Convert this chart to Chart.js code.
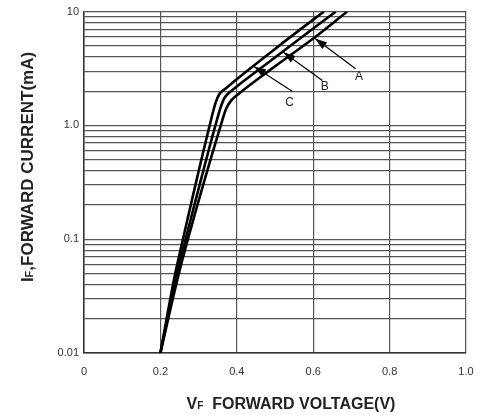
<!DOCTYPE html>
<html>
<head>
<meta charset="utf-8">
<script src="https://cdn.jsdelivr.net/npm/chart.js@4.4.1/dist/chart.umd.min.js"></script>
<style>
  html, body { margin: 0; padding: 0; background: #fff; }
  #wrap { width: 481px; height: 415px; }
</style>
</head>
<body>
<div id="wrap"><canvas id="ivChart"></canvas></div>
<script>
// forward voltage (V) vs forward current (mA)
const voltsA   = [0.2, 0.245, 0.272, 0.358, 0.372, 0.385, 0.403, 0.5, 0.6, 0.689];
const currentA = [0.01, 0.045, 0.1, 1.0, 1.4, 1.65, 1.87, 3.3, 5.8, 10];

const voltsB   = [0.2, 0.24, 0.266, 0.344, 0.358, 0.368, 0.385, 0.4, 0.5, 0.6, 0.659];
const currentB = [0.01, 0.045, 0.1, 1.0, 1.45, 1.75, 2.0, 2.2, 3.95, 7.1, 10];

const voltsC   = [0.2, 0.236, 0.259, 0.329, 0.345, 0.355, 0.37, 0.4, 0.5, 0.6, 0.628];
const currentC = [0.01, 0.045, 0.1, 1.0, 1.6, 1.9, 2.1, 2.55, 4.7, 8.5, 10];

// y grid: 1..9 in every decade, only the decades get a label
const yGrid = [0.01, 0.02, 0.03, 0.04, 0.05, 0.06, 0.07, 0.08, 0.09,
               0.1, 0.2, 0.3, 0.4, 0.5, 0.6, 0.7, 0.8, 0.9,
               1, 2, 3, 4, 5, 6, 7, 8, 9, 10];
const yLabels = { 0.01: '0.01', 0.1: '0.1', 1: '1.0', 10: '10' };
const xLabels = { 0: '0', 0.2: '0.2', 0.4: '0.4', 0.6: '0.6', 0.8: '0.8', 1: '1.0' };

// curve call-outs: label, arrow tip (on the curve), arrow tail, label spot
const calloutNames = ['A', 'B', 'C'];
const calloutTips  = [[0.605, 5.8], [0.522, 4.4], [0.445, 3.3]];
const calloutTails = [[0.711, 3.15], [0.624, 2.48], [0.545, 2.0]];
const calloutText  = [[0.72, 2.7], [0.63, 2.19], [0.538, 1.59]];

function toPoints(xs, ys) {
  return xs.map((x, i) => ({ x: x, y: ys[i] }));
}

function curve(label, xs, ys) {
  return {
    label: label,
    data: toPoints(xs, ys),
    borderColor: '#000',
    borderWidth: 2.6,
    pointRadius: 0,
    cubicInterpolationMode: 'monotone',
    fill: false
  };
}

const FONT = '"Liberation Sans", Arial, sans-serif';

const calloutPlugin = {
  id: 'callouts',
  afterDatasetsDraw(chart) {
    const ctx = chart.ctx, xs = chart.scales.x, ys = chart.scales.y;
    ctx.save();
    ctx.strokeStyle = '#000';
    ctx.fillStyle = '#000';
    ctx.lineWidth = 1.2;
    calloutNames.forEach((name, i) => {
      const tx = xs.getPixelForValue(calloutTips[i][0]);
      const ty = ys.getPixelForValue(calloutTips[i][1]);
      const bx = xs.getPixelForValue(calloutTails[i][0]);
      const by = ys.getPixelForValue(calloutTails[i][1]);
      const ang = Math.atan2(ty - by, tx - bx);
      ctx.beginPath();
      ctx.moveTo(bx, by);
      ctx.lineTo(tx, ty);
      ctx.stroke();
      // arrow head
      const len = 12, half = 4;
      ctx.beginPath();
      ctx.moveTo(tx, ty);
      ctx.lineTo(tx - len * Math.cos(ang) + half * Math.sin(ang), ty - len * Math.sin(ang) - half * Math.cos(ang));
      ctx.lineTo(tx - len * Math.cos(ang) - half * Math.sin(ang), ty - len * Math.sin(ang) + half * Math.cos(ang));
      ctx.closePath();
      ctx.fill();

      ctx.fillStyle = '#222';
      ctx.font = '12px ' + FONT;
      ctx.textAlign = 'center';
      ctx.textBaseline = 'middle';
      ctx.fillText(name, xs.getPixelForValue(calloutText[i][0]), ys.getPixelForValue(calloutText[i][1]));
      ctx.fillStyle = '#000';
    });
    ctx.restore();
  }
};

// axis titles with the small "F" subscript letter
function drawRun(ctx, parts, startX, y) {
  let x = startX;
  parts.forEach(p => {
    ctx.font = 'bold ' + p[1] + 'px ' + FONT;
    ctx.fillText(p[0], x, y);
    x += ctx.measureText(p[0]).width;
  });
}
function runWidth(ctx, parts) {
  let w = 0;
  parts.forEach(p => {
    ctx.font = 'bold ' + p[1] + 'px ' + FONT;
    w += ctx.measureText(p[0]).width;
  });
  return w;
}

const titlePlugin = {
  id: 'axisTitles',
  afterDraw(chart) {
    const ctx = chart.ctx, area = chart.chartArea;
    ctx.save();
    ctx.fillStyle = '#222';
    ctx.textAlign = 'left';
    ctx.textBaseline = 'alphabetic';

    const xParts = [['V', 16], ['F', 10], ['  FORWARD VOLTAGE(V)', 16]];
    const xw = runWidth(ctx, xParts);
    drawRun(ctx, xParts, 291 - xw / 2, 409);

    const yParts = [['I', 17], ['F', 11], [',FORWARD CURRENT(mA)', 17]];
    const yw = runWidth(ctx, yParts);
    ctx.translate(33, 167);
    ctx.rotate(-Math.PI / 2);
    drawRun(ctx, yParts, -yw / 2, 0);
    ctx.restore();
  }
};

const gridColor = '#555';

new Chart(document.getElementById('ivChart'), {
  type: 'line',
  data: {
    datasets: [
      curve('A', voltsA, currentA),
      curve('B', voltsB, currentB),
      curve('C', voltsC, currentC)
    ]
  },
  options: {
    responsive: true,
    maintainAspectRatio: false,
    animation: false,
    events: [],
    layout: { padding: { left: 40, right: 15, top: 7, bottom: 0 } },
    plugins: {
      legend: { display: false },
      tooltip: { enabled: false }
    },
    scales: {
      x: {
        type: 'linear',
        min: 0,
        max: 1,
        afterFit(scale) { scale.height = 62; },
        afterBuildTicks(scale) {
          scale.ticks = Object.keys(xLabels).map(v => ({ value: Number(v) }));
        },
        grid: { color: gridColor, lineWidth: 1.2, drawTicks: false },
        border: { color: '#333', width: 1.5 },
        ticks: {
          padding: 12,
          color: '#333',
          font: { family: FONT, size: 11 },
          callback: v => xLabels[v] !== undefined ? xLabels[v] : ''
        }
      },
      y: {
        type: 'logarithmic',
        min: 0.01,
        max: 10,
        afterFit(scale) { scale.width = 44; },
        afterBuildTicks(scale) {
          scale.ticks = yGrid.map(v => ({ value: v }));
        },
        grid: { color: gridColor, lineWidth: 1.2, drawTicks: false },
        border: { color: '#333', width: 1.5 },
        ticks: {
          padding: 5,
          autoSkip: false,
          color: '#333',
          font: { family: FONT, size: 11 },
          callback: v => yLabels[v] !== undefined ? yLabels[v] : ''
        }
      }
    }
  },
  plugins: [calloutPlugin, titlePlugin]
});
</script>
</body>
</html>
